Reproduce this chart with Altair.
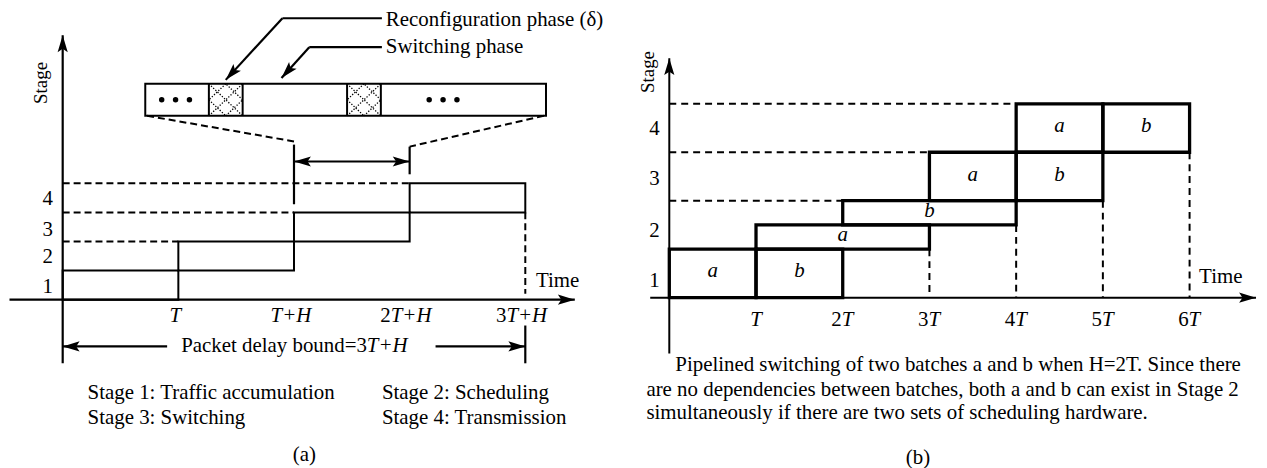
import altair as alt
import pandas as pd

FONT = "Liberation Serif"
FS = 21
ARROW = "M0,0L0.6,2L0,1.6L-0.6,2Z"   # arrow head, tip at origin, pointing up

# ---------------- Panel (a): one packet through the four stages ----------------
A_STAGES = [1, 2, 3, 4]
A_START = [0, 1, 2, 3]          # in units of the time marks T, T+H, 2T+H, 3T+H
A_END = [1, 2, 3, 4]
A_STAGE_LABEL_Y = [0.444, 1.47, 2.393, 3.453]
A_TICK_POS = [1, 2, 3, 4]
A_TICK_LABELS = ["T", "T+H", "2T+H", "3T+H"]
A_LEGEND = ["Stage 1: Traffic accumulation", "Stage 2: Scheduling",
            "Stage 3: Switching", "Stage 4: Transmission"]
A_LEGEND_X = [0.215, 2.76, 0.215, 2.76]
A_LEGEND_Y = [-3.214, -3.214, -4.068, -4.068]
A_ZOOM_BOX = [0.714, 4.179, 6.32, 7.42]          # x0, x1, y0, y1 of switching-phase strip
A_ZOOM_DIVIDERS = [1.264, 1.556, 2.459, 2.751]
A_HATCH_CELLS = [(1.264, 1.556), (2.459, 2.751)]
A_DOTS_CENTER_X = [0.976, 3.289]
A_DOTS_STEP = 0.12
A_DOTS_Y = 6.87

A_SOLID = [  # x, y, x2, y2
    (0, -2.19, 0, 9.09),          # stage axis
    (-0.46, 0, 4.428, 0),         # time axis
    (2, 5.33, 2, 3.28),
    (3, 5.26, 3, 4.31),
    (2, 4.75, 3, 4.75),
    (1.90, 9.675, 2.76, 9.675), (1.90, 9.675, 1.41, 7.556),
    (2.132, 8.68, 2.76, 8.68), (2.132, 8.68, 1.892, 7.62),
    (0, -1.607, 0.903, -1.607), (3.224, -1.607, 4, -1.607),
    (4, -0.889, 4, -2.188),
]
A_DASHED = [
    (0, 2, 1, 2), (0, 3, 2, 3), (0, 4, 3, 4),
    (4, 3, 4, 0.2),
    (0.73, 6.32, 2.0, 5.44), (4.16, 6.32, 3.0, 5.26),
]
A_HEADS = [  # x, y, angle
    (0, 9.09, 0), (4.428, 0, 90), (2, 4.75, 270), (3, 4.75, 90),
    (1.41, 7.556, 222.6), (1.892, 7.62, 222.1), (0, -1.607, 270), (4, -1.607, 90),
]
A_BOUND_TEXT = ("Packet delay bound=3", "T+H")
A_BOUND_JUNCTION = 2.63

# ---------------- Panel (b): pipelined batches a and b, H = 2T ----------------
B_BATCH = ["a", "b", "a", "b", "a", "b", "a", "b"]
B_START = [0, 1, 1, 2, 3, 4, 4, 5]
B_END = [1, 2, 3, 4, 4, 5, 5, 6]
B_LOW = [0, 0, 1, 1.5, 2, 2, 3, 3]
B_HIGH = [1, 1, 1.5, 2, 3, 3, 4, 4]
B_STAGE_LABEL_Y = [0.35, 1.37, 2.45, 3.47]
B_TICK_POS = [1, 2, 3, 4, 5, 6]
B_TICK_LABELS = ["T", "2T", "3T", "4T", "5T", "6T"]
B_CAPTION = ["Pipelined switching of two batches a and b when H=2T. Since there",
             "are no dependencies between batches, both a and b can exist in Stage 2",
             "simultaneously if there are two sets of scheduling hardware."]
B_CAPTION_X = [0.069, -0.264, -0.264]
B_CAPTION_Y = [-1.395, -1.908, -2.379]
B_SOLID = [(0, -1.15, 0, 4.94), (-0.22, 0, 6.766, 0)]
B_DASHED = [(0, 2, 2, 2), (0, 3, 3, 3), (0, 4, 4, 4),
            (3, 1, 3, 0), (4, 1.5, 4, 0), (5, 2, 5, 0), (6, 3, 6, 0)]
B_HEADS = [(0, 4.94, 0), (6.766, 0, 90)]

# ---------------- scales ----------------
XA = alt.Scale(domain=[-0.4643, 4.798], nice=False, zero=False)
YA = alt.Scale(domain=[-5.607, 9.846], nice=False, zero=False)
XB = alt.Scale(domain=[-0.5963, 6.8005], nice=False, zero=False)
YB = alt.Scale(domain=[-3.405, 5.867], nice=False, zero=False)


def enc(sx, sy):
    return dict(x=alt.X("x:Q", scale=sx, axis=None), y=alt.Y("y:Q", scale=sy, axis=None))


def rules(rows, sx, sy, **kw):
    df = pd.DataFrame(rows, columns=["x", "y", "x2", "y2"])
    return alt.Chart(df).mark_rule(color="black", **kw).encode(x2="x2:Q", y2="y2:Q", **enc(sx, sy))


def rects(df, sx, sy, **kw):
    return alt.Chart(df).mark_rect(fillOpacity=0, stroke="black", **kw).encode(
        x2="x2:Q", y2="y2:Q", **enc(sx, sy))


def texts(xs, ys, ts, sx, sy, **kw):
    df = pd.DataFrame({"x": xs, "y": ys, "t": ts})
    base = dict(font=FONT, fontSize=FS, color="black", baseline="middle")
    base.update(kw)
    return alt.Chart(df).mark_text(**base).encode(text="t:N", **enc(sx, sy))


def heads(rows, sx, sy):
    df = pd.DataFrame(rows, columns=["x", "y", "ang"])
    return alt.Chart(df).mark_point(shape=ARROW, filled=True, size=289, color="black",
                                    opacity=1, strokeWidth=0).encode(
        angle=alt.Angle("ang:Q", scale=None), **enc(sx, sy))


def dots(xs, ys, sx, sy):
    df = pd.DataFrame({"x": xs, "y": ys})
    return alt.Chart(df).mark_circle(size=30, color="black", opacity=1).encode(**enc(sx, sy))


def tick_labels(pos, labels, y, sx, sy, junction_dx, plain_dx):
    plain = [(p, l) for p, l in zip(pos, labels) if not l[0].isdigit()]
    mixed = [(p, l) for p, l in zip(pos, labels) if l[0].isdigit()]
    out = [texts([p for p, _ in plain], [y] * len(plain), [l for _, l in plain], sx, sy,
                 fontStyle="italic", align="center", dx=plain_dx)]
    if mixed:
        out.append(texts([p for p, _ in mixed], [y] * len(mixed), [l[0] for _, l in mixed],
                         sx, sy, align="right", dx=junction_dx))
        out.append(texts([p for p, _ in mixed], [y] * len(mixed), [l[1:] for _, l in mixed],
                         sx, sy, align="left", fontStyle="italic", dx=junction_dx))
    return out


# ---------------- build panel (a) ----------------
a_boxes = pd.DataFrame({"x": A_START, "x2": A_END,
                        "y": [s - 1 for s in A_STAGES], "y2": A_STAGES})
zoom_box = pd.DataFrame({"x": [A_ZOOM_BOX[0]], "x2": [A_ZOOM_BOX[1]],
                         "y": [A_ZOOM_BOX[2]], "y2": [A_ZOOM_BOX[3]]})
dividers = [(d, A_ZOOM_BOX[2], d, A_ZOOM_BOX[3]) for d in A_ZOOM_DIVIDERS]
frac = [(0, 0, 1, 1), (0, 1, 1, 0), (0.5, 0, 1, 0.5), (1, 0.5, 0.5, 1),
        (0.5, 1, 0, 0.5), (0, 0.5, 0.5, 0)]
y0, y1 = A_ZOOM_BOX[2], A_ZOOM_BOX[3]
hatch = [(c0 + (c1 - c0) * f[0], y0 + (y1 - y0) * f[1], c0 + (c1 - c0) * f[2], y0 + (y1 - y0) * f[3])
         for (c0, c1) in A_HATCH_CELLS for f in frac]
dot_x = [c + k * A_DOTS_STEP for c in A_DOTS_CENTER_X for k in (-1, 0, 1)]

panel_a_layers = [
    rects(a_boxes, XA, YA, strokeWidth=2),
    rects(zoom_box, XA, YA, strokeWidth=2),
    rules(dividers, XA, YA, strokeWidth=2),
    rules(hatch, XA, YA, strokeWidth=1.3, strokeDash=[1.3, 1.7]),
    rules(A_SOLID, XA, YA, strokeWidth=2.2),
    rules(A_DASHED, XA, YA, strokeWidth=2, strokeDash=[7, 4]),
    heads(A_HEADS, XA, YA),
    dots(dot_x, [A_DOTS_Y] * len(dot_x), XA, YA),
    texts([-0.13] * 4, A_STAGE_LABEL_Y, [str(s) for s in A_STAGES], XA, YA, align="center"),
    texts([4.093], [0.65], ["Time"], XA, YA, align="left"),
    texts([-0.189], [7.45], ["Stage"], XA, YA, align="center", angle=270, fontSize=19),
    texts([2.794], [9.60], ["Reconfiguration phase (δ)"], XA, YA, align="left"),
    texts([2.794], [8.69], ["Switching phase"], XA, YA, align="left"),
    texts([A_BOUND_JUNCTION], [-1.607], [A_BOUND_TEXT[0]], XA, YA, align="right"),
    texts([A_BOUND_JUNCTION], [-1.607], [A_BOUND_TEXT[1]], XA, YA, align="left",
          fontStyle="italic"),
    texts(A_LEGEND_X, A_LEGEND_Y, A_LEGEND, XA, YA, align="left"),
    texts([2.09], [-5.33], ["(a)"], XA, YA, align="center"),
] + tick_labels(A_TICK_POS, A_TICK_LABELS, -0.58, XA, YA, junction_dx=-19, plain_dx=-3)

panel_a = alt.layer(*panel_a_layers).properties(width=612, height=452)

# ---------------- build panel (b) ----------------
b_boxes = pd.DataFrame({"x": B_START, "x2": B_END, "y": B_LOW, "y2": B_HIGH, "batch": B_BATCH})
b_label_x = [(s + e) / 2 for s, e in zip(B_START, B_END)]
b_label_y = [(lo + hi) / 2 + 0.04 for lo, hi in zip(B_LOW, B_HIGH)]

panel_b_layers = [
    rects(b_boxes, XB, YB, strokeWidth=3.3),
    rules(B_SOLID, XB, YB, strokeWidth=2),
    rules(B_DASHED, XB, YB, strokeWidth=2, strokeDash=[7, 5]),
    heads(B_HEADS, XB, YB),
    texts(b_label_x, b_label_y, B_BATCH, XB, YB, align="center", fontStyle="italic"),
    texts([-0.172] * 4, B_STAGE_LABEL_Y, [str(s) for s in A_STAGES], XB, YB, align="center"),
    texts([6.11], [0.43], ["Time"], XB, YB, align="left"),
    texts([-0.24], [4.656], ["Stage"], XB, YB, align="center", angle=270, fontSize=19),
    texts(B_CAPTION_X, B_CAPTION_Y, B_CAPTION, XB, YB, align="left"),
    texts([2.867], [-3.302], ["(b)"], XB, YB, align="center"),
] + tick_labels(B_TICK_POS, B_TICK_LABELS, -0.47, XB, YB, junction_dx=-1, plain_dx=0)

panel_b = alt.layer(*panel_b_layers).properties(width=645, height=452)

chart = alt.hconcat(panel_a, panel_b, spacing=0, bounds="flush").properties(
    padding=0).configure_view(strokeWidth=0)

chart.save("out.html", embed_options={"renderer": "svg", "actions": False})
